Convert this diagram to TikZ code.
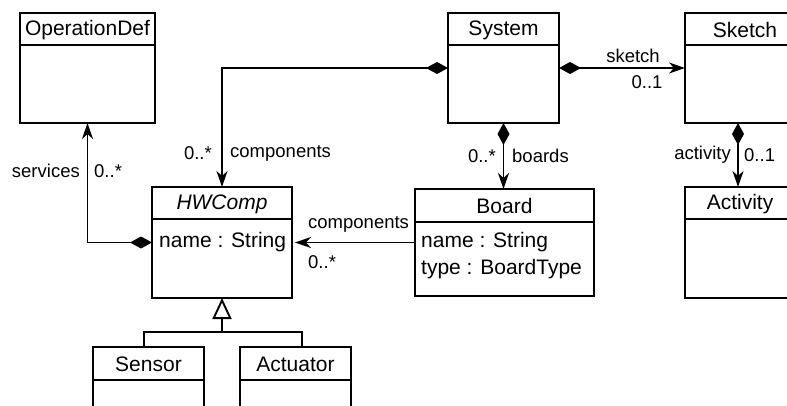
\documentclass[tikz,border=0pt]{standalone}
\usepackage{fontspec}
\setmainfont{Liberation Sans}
\usetikzlibrary{arrows.meta,calc}
\begin{document}
\begin{tikzpicture}[x=1pt,y=-1pt,
  box/.style={draw,line width=1.9pt,inner sep=0pt,outer sep=0pt},
  sepline/.style={line width=1.9pt},
  ttl/.style={inner sep=0pt,font=\fontsize{21}{25}\selectfont},
  lbl/.style={inner sep=0pt,font=\fontsize{18.5}{22}\selectfont},
  conn/.style={line width=1.9pt},
  comp/.style={conn,{Diamond[length=22pt,width=12pt]}-{Stealth[length=16pt,width=11pt,inset=5pt]}},
  assoc/.style={conn,-{Stealth[length=16pt,width=11pt,inset=5pt]}},
  gen/.style={conn,-{Triangle[open,length=21pt,width=19pt]}}]
\useasboundingbox (0,0) rectangle (787,406);
\clip (0,0) rectangle (787,406);
% boxes
\node[box,minimum width=135pt,minimum height=110pt] (opdef) at (87.5,68) {};
\node[box,minimum width=111pt,minimum height=110pt] (system) at (503.5,68) {};
\node[box,minimum width=106pt,minimum height=110pt] (sketch) at (738,68) {};
\node[box,minimum width=140pt,minimum height=111pt] (hwcomp) at (222,242.5) {};
\node[box,minimum width=179pt,minimum height=107pt] (board) at (504.5,242.5) {};
\node[box,minimum width=106pt,minimum height=111pt] (activity) at (738,242.5) {};
\node[box,minimum width=111pt,minimum height=70pt] (sensor) at (148.5,382) {};
\node[box,minimum width=111pt,minimum height=70pt] (actuator) at (295.5,382) {};
% separators
\draw[sepline] (opdef.west |- 0,45) -- (opdef.east |- 0,45);
\draw[sepline] (system.west |- 0,45) -- (system.east |- 0,45);
\draw[sepline] (sketch.west |- 0,45) -- (sketch.east |- 0,45);
\draw[sepline] (hwcomp.west |- 0,219) -- (hwcomp.east |- 0,219);
\draw[sepline] (board.west |- 0,222) -- (board.east |- 0,222);
\draw[sepline] (activity.west |- 0,219) -- (activity.east |- 0,219);
\draw[sepline] (sensor.west |- 0,380) -- (sensor.east |- 0,380);
\draw[sepline] (actuator.west |- 0,380) -- (actuator.east |- 0,380);
% titles
\node[ttl] (opdefT) at (87.5,30) {OperationDef};
\node[ttl] (systemT) at (503.5,30) {System};
\node[ttl] (sketchT) at (745,30) {Sketch};
\node[ttl] (hwcompT) at (222,204) {\itshape HWComp};
\node[ttl] (boardT) at (504.5,206) {Board};
\node[ttl] (activityT) at (740,204) {Activity};
\node[ttl] (sensorT) at (148.5,364) {Sensor};
\node[ttl] (actuatorT) at (295.5,364) {Actuator};
% attributes
\node[ttl,anchor=west] (hwA) at (159,242) {name : String};
\node[ttl,anchor=west] (bA1) at (421,242) {name : String};
\node[ttl,anchor=west] (bA2) at (421,269) {type : BoardType};
% connectors
\draw[comp] (system.west) -| (hwcomp.north);
\draw[comp] (hwcomp.west) -| (opdef.south);
\draw[comp] (system.east) -- (sketch.west);
\draw[comp] (system.south) -- (system.south |- board.north);
\draw[comp] (sketch.south) -- (activity.north);
\draw[assoc,shorten >=3pt] (board.west) -- (hwcomp.east);
\coordinate (gj) at (222,332);
\draw[gen] (gj) -- (hwcomp.south);
\draw[conn] ([xshift=-4.5pt]sensor.north) |- (gj) -| ([xshift=6.5pt]actuator.north);
% labels
\node[lbl,anchor=east] (l1) at (212,153) {0..*};
\node[lbl,anchor=west] (l2) at (230,153) {components};
\node[lbl,anchor=east] (l3) at (80,171) {services};
\node[lbl,anchor=west] (l4) at (94,171) {0..*};
\node[lbl] (l5) at (633,56) {sketch};
\node[lbl] (l6) at (647,82) {0..1};
\node[lbl,anchor=east] (l7) at (496,156) {0..*};
\node[lbl,anchor=west] (l8) at (512,156) {boards};
\node[lbl,anchor=east] (l9) at (731,155) {activity};
\node[lbl,anchor=west] (l10) at (744,155) {0..1};
\node[lbl,anchor=west] (l11) at (308,224) {components};
\node[lbl,anchor=west] (l12) at (308,262) {0..*};
\end{tikzpicture}
\end{document}
